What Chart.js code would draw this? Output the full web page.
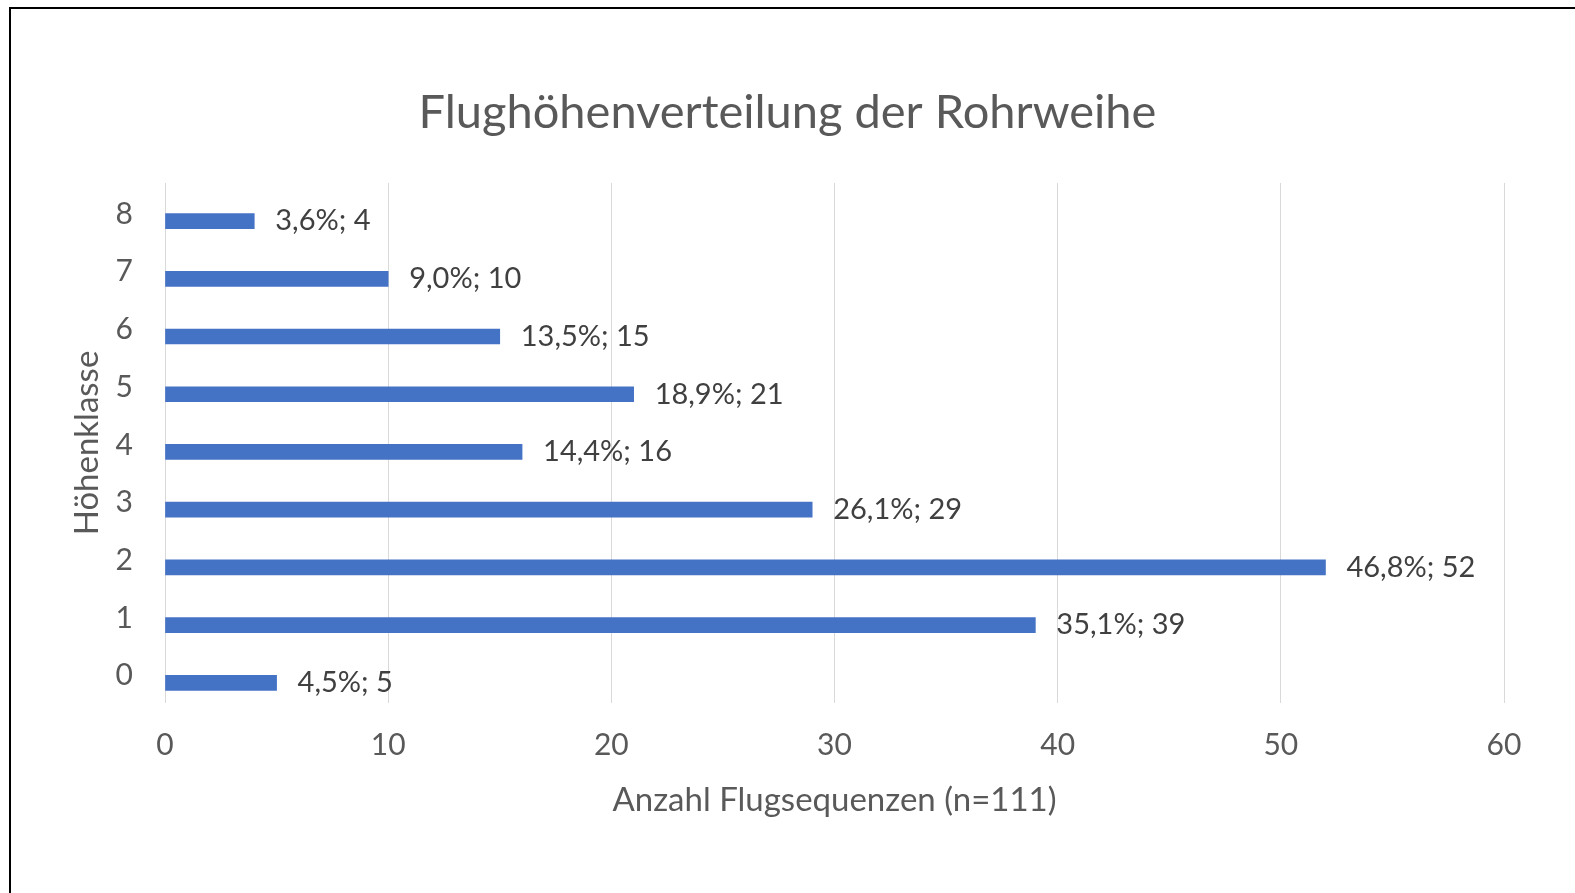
<!DOCTYPE html>
<html>
<head>
<meta charset="utf-8">
<script src="https://cdn.jsdelivr.net/npm/chart.js@4"></script>
<style>
html, body { margin: 0; padding: 0; background: #fff; overflow: hidden; }
#frame { position: absolute; left: 9px; top: 7px; width: 1600px; height: 920px; border-left: 2px solid #000; border-top: 2px solid #000; }
#wrap { position: absolute; left: 0; top: 0; width: 1575px; height: 893px; }
</style>
</head>
<body>
<div id="frame"></div>
<div id="wrap"><canvas id="chart"></canvas></div>
<script>
const heightClasses = [0, 1, 2, 3, 4, 5, 6, 7, 8];
const sequenceCounts = [5, 39, 52, 29, 16, 21, 15, 10, 4];
const sharePercent = [4.5, 35.1, 46.8, 26.1, 14.4, 18.9, 13.5, 9.0, 3.6];
const xTickStep = 10;

const fontFamily = 'Lato';
const textGray = '#595959';

function labelText(i) {
    return sharePercent[i].toFixed(1).replace('.', ',') + '%; ' + sequenceCounts[i];
}

// Beschriftung rechts neben jedem Balken
const barValueLabels = {
    id: 'barValueLabels',
    afterDatasetsDraw(chart) {
        const ctx = chart.ctx;
        const meta = chart.getDatasetMeta(0);
        ctx.save();
        ctx.font = '29px ' + fontFamily;
        ctx.fillStyle = '#404040';
        ctx.textAlign = 'left';
        ctx.textBaseline = 'middle';
        meta.data.forEach((bar, i) => {
            ctx.fillText(labelText(i), bar.x + 21, bar.y);
        });
        ctx.restore();
    }
};

const chartData = {
    datasets: [{
        label: 'Flugsequenzen',
        data: heightClasses.map((c, i) => ({ x: sequenceCounts[i], y: c })),
        backgroundColor: '#4472C4',
        borderWidth: 0,
        barThickness: 15
    }]
};

const config = {
    type: 'bar',
    data: chartData,
    options: {
        indexAxis: 'y',
        responsive: true,
        maintainAspectRatio: false,
        animation: false,
        layout: { padding: 0 },
        plugins: {
            legend: { display: false },
            tooltip: { enabled: false },
            title: {
                display: true,
                text: 'Flughöhenverteilung der Rohrweihe',
                color: textGray,
                font: { family: fontFamily, size: 47, weight: 'normal' },
                padding: { top: 84.5, bottom: 42.1 }
            }
        },
        scales: {
            x: {
                type: 'linear',
                min: 0,
                max: 60,
                ticks: {
                    stepSize: xTickStep,
                    color: textGray,
                    font: { family: fontFamily, size: 30 },
                    padding: 24
                },
                grid: { color: '#d9d9d9', drawTicks: false },
                border: { display: false },
                title: {
                    display: true,
                    text: 'Anzahl Flugsequenzen (n=111)',
                    color: textGray,
                    font: { family: fontFamily, size: 33 },
                    padding: { top: 0, bottom: 73 }
                },
                afterFit: s => { s.height = 190; }
            },
            y: {
                type: 'linear',
                min: -0.35,
                max: 8.66,
                offset: false,
                afterBuildTicks: s => { s.ticks = heightClasses.map(v => ({ value: v })); },
                ticks: {
                    color: textGray,
                    font: { family: fontFamily, size: 30 },
                    padding: 32,
                    labelOffset: -7,
                    callback: v => String(v)
                },
                grid: { display: false, drawTicks: false },
                border: { display: false },
                title: {
                    display: true,
                    text: 'Höhenklasse',
                    color: textGray,
                    font: { family: fontFamily, size: 33 },
                    padding: { top: 68, bottom: 0 }
                },
                afterFit: s => { s.width = 165; }
            },
            spacer: {
                type: 'linear',
                position: 'right',
                display: true,
                grid: { display: false, drawTicks: false },
                ticks: { display: false },
                border: { display: false },
                afterFit: s => { s.width = 71; }
            }
        }
    },
    plugins: [barValueLabels]
};

new Chart(document.getElementById('chart').getContext('2d'), config);
</script>
</body>
</html>
